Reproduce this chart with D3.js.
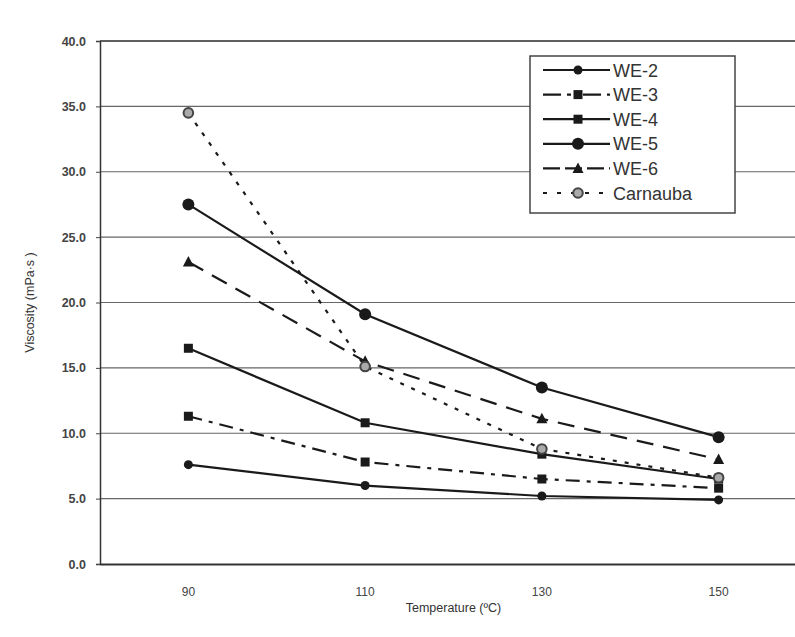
<!DOCTYPE html>
<meta charset="utf-8">
<title>Viscosity vs Temperature</title>
<style>
  body { margin: 0; background: #fff; }
  svg { font-family: "Liberation Sans", Arial, sans-serif; }
  .grid line { stroke: #666; stroke-width: 1.2; }
  .tick text { fill: #444; }
</style>
<body>
<script src="https://cdn.jsdelivr.net/npm/d3@7"></script>
<script>
  // data
  var temps = ["90", "110", "130", "150"];
  var we2 = [7.6, 6.0, 5.2, 4.9];
  var we3 = [11.3, 7.8, 6.5, 5.8];
  var we4 = [16.5, 10.8, 8.4, 6.5];
  var we5 = [27.5, 19.1, 13.5, 9.7];
  var we6 = [23.1, 15.5, 11.1, 8.0];
  var carnauba = [34.5, 15.1, 8.8, 6.6];
  var yTicks = [0, 5, 10, 15, 20, 25, 30, 35, 40];

  var series = [
    {name: "WE-2", values: we2, dash: null, marker: "diamond"},
    {name: "WE-3", values: we3, dash: "14,7,4,7", marker: "square"},
    {name: "WE-4", values: we4, dash: null, marker: "square"},
    {name: "WE-5", values: we5, dash: null, marker: "circle"},
    {name: "WE-6", values: we6, dash: "17,10", marker: "triangle"},
    {name: "Carnauba", values: carnauba, dash: "4,8", marker: "open"}
  ];

  var W = 795, H = 637;
  var plot = {left: 100, right: 807, top: 41, bottom: 564};

  var svg = d3.select("body").append("svg")
      .attr("width", W)
      .attr("height", H);

  var x = d3.scaleBand().domain(temps).range([plot.left, plot.right]);
  var y = d3.scaleLinear().domain([0, 40]).range([plot.bottom, plot.top]);

  // gridlines
  svg.append("g").attr("class", "grid")
    .selectAll("line")
    .data(yTicks.filter(function(d) { return d > 0; }))
    .enter().append("line")
      .attr("x1", plot.left).attr("x2", plot.right)
      .attr("y1", function(d) { return y(d); })
      .attr("y2", function(d) { return y(d); });

  // axes
  var yAxis = svg.append("g")
      .attr("transform", "translate(" + plot.left + ",0)")
      .call(d3.axisLeft(y).tickValues(yTicks).tickFormat(d3.format(".1f")).tickSize(4).tickPadding(10));
  yAxis.select(".domain").attr("stroke", "#333").attr("stroke-width", 1.5);
  yAxis.selectAll(".tick line").attr("stroke", "#444");
  yAxis.selectAll(".tick text").attr("font-size", 12.5).attr("font-weight", "bold");

  var xAxis = svg.append("g")
      .attr("transform", "translate(0," + plot.bottom + ")")
      .call(d3.axisBottom(x).tickSize(0).tickPadding(23));
  xAxis.select(".domain").attr("stroke", "#333").attr("stroke-width", 2);
  xAxis.selectAll(".tick text").attr("font-size", 12);

  // top border
  svg.append("line")
      .attr("x1", plot.left).attr("x2", plot.right)
      .attr("y1", plot.top).attr("y2", plot.top)
      .attr("stroke", "#444").attr("stroke-width", 1.5);

  // axis titles
  svg.append("text")
      .attr("x", (plot.left + plot.right) / 2).attr("y", 612)
      .attr("text-anchor", "middle")
      .attr("font-size", 12.5).attr("fill", "#333")
      .text("Temperature (ºC)");

  svg.append("text")
      .attr("transform", "translate(34," + (plot.top + plot.bottom) / 2 + ") rotate(-90)")
      .attr("text-anchor", "middle")
      .attr("font-size", 12.5).attr("fill", "#333")
      .text("Viscosity (mPa·s )");

  function drawMarker(g, type, cx, cy) {
    if (type === "circle") {
      g.append("circle").attr("cx", cx).attr("cy", cy).attr("r", 6).attr("fill", "#1a1a1a");
    } else if (type === "diamond") {
      g.append("circle").attr("cx", cx).attr("cy", cy).attr("r", 4.5).attr("fill", "#1a1a1a");
    } else if (type === "square") {
      g.append("rect").attr("x", cx - 4.5).attr("y", cy - 4.5).attr("width", 9).attr("height", 9).attr("fill", "#1a1a1a");
    } else if (type === "triangle") {
      g.append("path")
        .attr("d", "M" + cx + "," + (cy - 6) + "L" + (cx + 5.5) + "," + (cy + 4.5) + "L" + (cx - 5.5) + "," + (cy + 4.5) + "Z")
        .attr("fill", "#1a1a1a");
    } else if (type === "open") {
      g.append("circle").attr("cx", cx).attr("cy", cy).attr("r", 4.8)
        .attr("fill", "#aaa").attr("stroke", "#444").attr("stroke-width", 2);
    }
  }

  var line = d3.line()
      .x(function(d, i) { return x(temps[i]) + x.bandwidth() / 2; })
      .y(function(d) { return y(d); });

  // lines and markers
  series.forEach(function(s) {
    var g = svg.append("g");
    g.append("path")
      .attr("d", line(s.values))
      .attr("fill", "none")
      .attr("stroke", "#1a1a1a")
      .attr("stroke-width", 2.2)
      .attr("stroke-dasharray", s.dash);
    s.values.forEach(function(v, i) {
      drawMarker(g, s.marker, x(temps[i]) + x.bandwidth() / 2, y(v));
    });
  });

  // legend
  var legendDash = {"WE-3": "18,6,4,12", "WE-6": "17,5", "Carnauba": "4,10"};
  var lg = svg.append("g");
  lg.append("rect")
      .attr("x", 530).attr("y", 56).attr("width", 205).attr("height", 157)
      .attr("fill", "#fff").attr("stroke", "#444").attr("stroke-width", 1.5);
  series.forEach(function(s, i) {
    var ly = 70 + i * 24.6;
    lg.append("line")
      .attr("x1", 543).attr("x2", 610)
      .attr("y1", ly).attr("y2", ly)
      .attr("stroke", "#1a1a1a").attr("stroke-width", 2.2)
      .attr("stroke-dasharray", legendDash[s.name] || null);
    drawMarker(lg, s.marker, 578, ly);
    lg.append("text")
      .attr("x", 613).attr("y", ly + 6.5)
      .attr("font-size", 18).attr("fill", "#333")
      .text(s.name);
  });
</script>
</body>
